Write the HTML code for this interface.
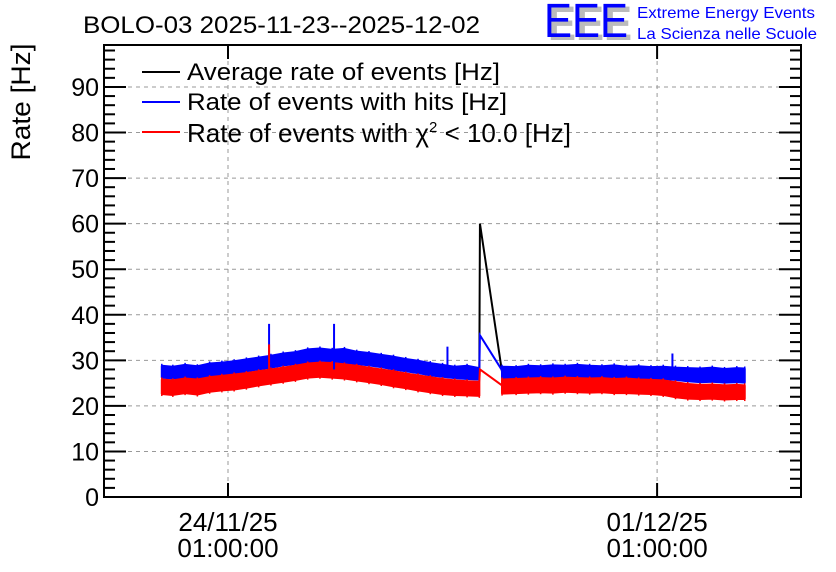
<!DOCTYPE html>
<html><head><meta charset="utf-8"><style>
body{margin:0;background:#fff}
svg{display:block;font-family:"Liberation Sans",sans-serif}
</style></head><body>
<svg id="chart" width="836" height="572" viewBox="0 0 836 572">
<rect width="836" height="572" fill="#fff"/>
<text x="83" y="33" font-size="24" textLength="397" lengthAdjust="spacingAndGlyphs">BOLO-03 2025-11-23--2025-12-02</text>
<g>
<text x="548" y="40" font-size="48" fill="#bbb" font-weight="bold" textLength="84" lengthAdjust="spacingAndGlyphs">EEE</text>
<text x="544" y="37" font-size="48" fill="#0000ff" textLength="84" lengthAdjust="spacingAndGlyphs">EEE</text>
<text x="637" y="18" font-size="16" fill="#0000ff" textLength="178" lengthAdjust="spacingAndGlyphs">Extreme Energy Events</text>
<text x="637" y="39" font-size="16" fill="#0000ff" textLength="180" lengthAdjust="spacingAndGlyphs">La Scienza nelle Scuole</text>
</g>
<text transform="translate(30,102) rotate(-90)" text-anchor="middle" font-size="27" textLength="117" lengthAdjust="spacingAndGlyphs">Rate [Hz]</text>
<g id="grid"></g><g id="marks"></g><g id="axes"></g>
<g font-size="24">
<g><line x1="142" y1="72" x2="180" y2="72" stroke="#000" stroke-width="2"/><text x="187" y="80" textLength="313" lengthAdjust="spacingAndGlyphs">Average rate of events [Hz]</text></g>
<g><line x1="142" y1="102" x2="180" y2="102" stroke="#00f" stroke-width="2"/><text x="187" y="110" textLength="320" lengthAdjust="spacingAndGlyphs">Rate of events with hits [Hz]</text></g>
<g><line x1="142" y1="132" x2="180" y2="132" stroke="#f00" stroke-width="2"/><text x="187" y="142" font-size="26">Rate of events with χ<tspan font-size="15" dy="-10">2</tspan><tspan dy="10"> &lt; 10.0 [Hz]</tspan></text></g>
</g>
</svg>
<script>
// time in days relative to 24/11/25 01:00:00
const seg1T = [-1.08,-0.9,-0.7,-0.5,-0.3,-0.1,0.1,0.3,0.5,0.7,0.9,1.1,1.3,1.5,1.7,1.9,2.1,2.3,2.5,2.7,2.9,3.1,3.3,3.5,3.7,3.9,4.1];
const seg1BlueMax = [28.8,28.6,29.0,28.7,29.3,29.5,29.8,30.2,30.6,31.0,31.5,31.8,32.4,32.6,32.3,32.5,31.9,31.6,31.2,30.8,30.3,29.9,29.4,29.0,28.6,28.8,28.3];
const seg1BlueMin = [26.2,26.0,26.3,26.1,26.6,26.9,27.2,27.6,28.0,28.4,28.9,29.2,29.6,29.9,29.8,29.5,29.2,28.9,28.5,28.0,27.6,27.2,26.7,26.4,26.1,25.9,25.8];
const seg1RedMax = [25.8,25.6,26.0,25.8,26.3,26.6,26.9,27.2,27.6,28.0,28.4,28.8,29.3,29.5,29.4,29.1,28.8,28.4,28.0,27.6,27.1,26.7,26.3,25.9,25.6,25.4,25.3];
const seg1RedMin = [22.6,22.4,22.8,22.5,23.1,23.4,23.6,24.0,24.5,24.9,25.3,25.7,26.2,26.4,26.2,26.0,25.6,25.2,24.8,24.3,23.9,23.4,23.0,22.6,22.4,22.3,22.2];
const seg2T = [4.47,4.7,4.9,5.1,5.3,5.5,5.7,5.9,6.1,6.3,6.5,6.7,6.9,7.1,7.3,7.5,7.7,7.9,8.1,8.3,8.43];
const seg2BlueMax = [28.6,28.5,28.8,28.7,28.9,28.8,29.0,28.8,28.7,28.9,28.6,28.7,28.5,28.6,28.4,28.3,28.2,28.4,28.1,28.3,28.2];
const seg2BlueMin = [26.0,26.1,26.2,26.3,26.2,26.4,26.3,26.2,26.3,26.1,26.2,26.0,26.0,25.9,25.7,25.4,25.2,25.3,25.1,25.2,25.1];
const seg2RedMax = [25.8,25.9,26.0,26.1,26.0,26.2,26.1,26.0,26.1,25.9,26.0,25.8,25.7,25.6,25.2,24.8,24.6,24.7,24.5,24.6,24.5];
const seg2RedMin = [22.7,22.8,22.9,23.0,22.9,23.1,23.0,22.9,23.0,22.8,22.8,22.7,22.6,22.4,21.9,21.6,21.5,21.6,21.4,21.5,21.5];
const spikeT = [4.1,4.11,4.47];
const spikeBlack = [28.0,60.0,27.5];
const spikeBlue = [28.0,35.5,27.8];
const spikeRed = [25.3,28.0,24.5];
const glitchT = [0.67,0.67,1.73,3.58,7.25];
const glitchSeries = ['blue','red','blue','blue','blue'];
const glitchVal = [38.0,33.5,38.0,33.0,31.5];
const yTicks = [0,10,20,30,40,50,60,70,80,90];
const xTickT = [0,7];
const xTickDate = ['24/11/25','01/12/25'];
const xTickTime = ['01:00:00','01:00:00'];

const L=104,R=801,T=45,B=497;
const xs=t=>228+t*61.3;
const ys=v=>B-v*4.556;
const NS='http://www.w3.org/2000/svg';
function mk(tag,attrs,parent){const e=document.createElementNS(NS,tag);for(const k in attrs)e.setAttribute(k,attrs[k]);parent.appendChild(e);return e;}
const grid=document.getElementById('grid'),marks=document.getElementById('marks'),axes=document.getElementById('axes');

yTicks.forEach(v=>{if(v===0)return;const g=mk('line',{x1:L,x2:R,y1:ys(v),y2:ys(v),stroke:'#999','stroke-dasharray':'4,4','stroke-width':1},grid);

});
xTickT.forEach(t=>{const g=mk('line',{x1:xs(t),x2:xs(t),y1:T,y2:B,stroke:'#999','stroke-dasharray':'4,4','stroke-width':1},grid);

});

function band(T_,hi,lo,color,name){
  let pts=[];
  T_.forEach((t,i)=>{pts.push(xs(t)+','+ys(hi[i]));});
  for(let i=T_.length-1;i>=0;i--)pts.push(xs(T_[i])+','+ys(lo[i]));
  const p=mk('polygon',{points:pts.join(' '),fill:color,stroke:color,'stroke-width':2,'stroke-linejoin':'bevel'},marks);
  
  
  T_.forEach((t,i)=>{const l=mk('line',{x1:xs(t),x2:xs(t),y1:ys(hi[i])-2,y2:ys(lo[i])+2,stroke:color,'stroke-width':1.5},marks);
  
  });
}
function line(T_,V,color,name){
  const p=mk('polyline',{points:T_.map((t,i)=>xs(t)+','+ys(V[i])).join(' '),fill:'none',stroke:color,'stroke-width':2},marks);
  
  
}
line(spikeT,spikeBlack,'#000','average-rate-spike');
band(seg1T,seg1BlueMax,seg1BlueMin,'#0000ff','hits-rate-band-1');
band(seg2T,seg2BlueMax,seg2BlueMin,'#0000ff','hits-rate-band-2');
line(spikeT,spikeBlue,'#0000ff','hits-rate-spike');
band(seg1T,seg1RedMax,seg1RedMin,'#ff0000','chi2-rate-band-1');
band(seg2T,seg2RedMax,seg2RedMin,'#ff0000','chi2-rate-band-2');
line(spikeT,spikeRed,'#ff0000','chi2-rate-spike');
glitchT.forEach((t,i)=>{const c=glitchSeries[i]==='red'?'#ff0000':'#0000ff';
  const l=mk('line',{x1:xs(t),x2:xs(t),y1:ys(glitchVal[i]),y2:ys(glitchSeries[i]==='red'?25:28),stroke:c,'stroke-width':2},marks);
  
  });

const fr=mk('rect',{x:L,y:T,width:R-L,height:B-T,fill:'none',stroke:'#000','stroke-width':2},axes);


for(let v=0;v<=98;v+=2){const major=v%10===0;const len=major?22:11;
  mk('line',{x1:L,x2:L+len,y1:ys(v),y2:ys(v),stroke:'#000','stroke-width':2},axes);
  mk('line',{x1:R-len,x2:R,y1:ys(v),y2:ys(v),stroke:'#000','stroke-width':2},axes);}
yTicks.forEach(v=>{const t=mk('text',{x:99,y:ys(v)+9,'text-anchor':'end','font-size':25},axes);t.textContent=v;
  
  });
xTickT.forEach((tt,i)=>{const x=xs(tt);
  mk('line',{x1:x,x2:x,y1:B,y2:B-14,stroke:'#000','stroke-width':2},axes);
  mk('line',{x1:x,x2:x,y1:T,y2:T+14,stroke:'#000','stroke-width':2},axes);
  const a=mk('text',{x:x,y:531,'text-anchor':'middle','font-size':26},axes);a.textContent=xTickDate[i];
  
  
  const b=mk('text',{x:x,y:557,'text-anchor':'middle','font-size':26},axes);b.textContent=xTickTime[i];
  
  });
</script>
</body></html>
